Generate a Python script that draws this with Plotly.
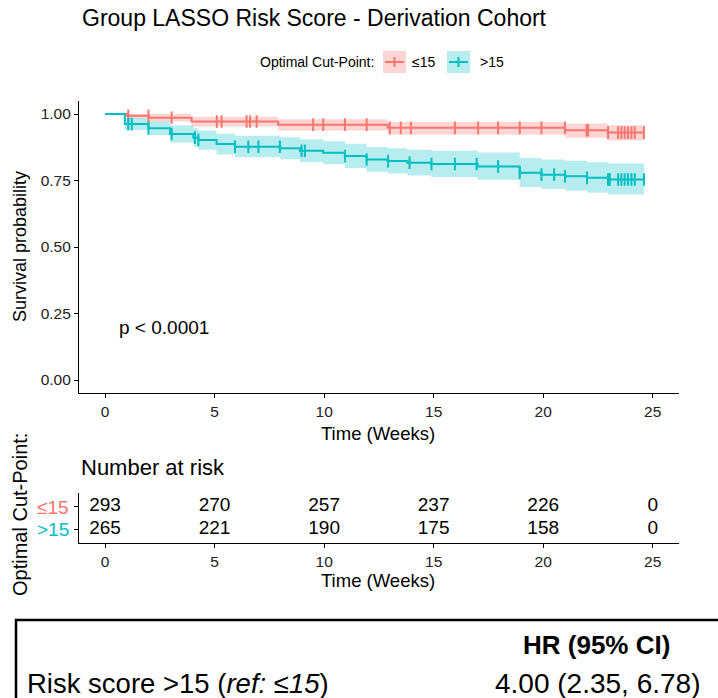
import plotly.graph_objects as go
import numpy as np

# ---------------- data ----------------
groups = ["≤15", ">15"]
colors = ["#F8766D", "#00BFC4"]
fills = ["rgba(248,118,109,0.30)", "rgba(0,191,196,0.28)"]

red_t = [0, 1.0, 2.0, 3.95, 7.9, 12.9, 21.0, 22.95, 24.6]
red_s = [1.0, 0.993, 0.986, 0.972, 0.960, 0.948, 0.939, 0.930, 0.930]
red_lo = [1.0, 0.983, 0.972, 0.953, 0.938, 0.923, 0.911, 0.900, 0.900]
red_hi = [1.0, 1.0, 1.0, 0.990, 0.980, 0.970, 0.964, 0.958, 0.958]
red_cens = [1.06, 1.98, 3.04, 5.1, 5.32, 6.46, 6.62, 6.92, 9.5, 9.96, 10.95, 11.94,
            13.0, 13.5, 13.96, 15.97, 17.03, 17.94, 18.93, 19.92, 20.99, 21.98, 22.05,
            22.96, 23.42, 23.57, 23.72, 23.87, 24.03, 24.18, 24.6]

teal_t = [0, 0.9, 1.98, 2.97, 4.03, 4.26, 5.09, 5.93, 8.0, 8.9, 9.96, 10.95, 11.94,
          12.9, 13.8, 14.9, 17.0, 18.93, 19.92, 21.0, 22.0, 22.96, 24.6]
teal_s = [1.0, 0.962, 0.946, 0.925, 0.911, 0.902, 0.887, 0.877, 0.871, 0.862, 0.854,
          0.842, 0.829, 0.823, 0.817, 0.812, 0.803, 0.779, 0.772, 0.766, 0.760, 0.754, 0.754]
teal_lo = [1.0, 0.940, 0.920, 0.893, 0.877, 0.866, 0.848, 0.837, 0.830, 0.820, 0.811,
           0.797, 0.783, 0.776, 0.769, 0.763, 0.753, 0.726, 0.718, 0.711, 0.704, 0.697, 0.697]
teal_hi = [1.0, 0.985, 0.973, 0.958, 0.946, 0.938, 0.926, 0.918, 0.913, 0.905, 0.898,
           0.888, 0.876, 0.871, 0.866, 0.862, 0.855, 0.835, 0.829, 0.824, 0.819, 0.814, 0.814]
teal_cens = [1.06, 1.22, 1.98, 3.04, 4.1, 4.26, 5.93, 6.54, 7.0, 7.98, 8.97, 9.12, 10.95,
             11.94, 12.92, 13.9, 14.9, 15.97, 16.96, 17.94, 18.93, 19.92, 20.5, 21.0, 22.0,
             22.96, 23.04, 23.42, 23.57, 23.72, 23.87, 24.03, 24.18, 24.6]

risk_times = [0, 5, 10, 15, 20, 25]
risk_red = [293, 270, 257, 237, 226, 0]
risk_teal = [265, 221, 190, 175, 158, 0]

y_ticks = [0, 0.25, 0.5, 0.75, 1.0]
y_ticklabels = ["0.00", "0.25", "0.50", "0.75", "1.00"]
x_ticks = [0, 5, 10, 15, 20, 25]

W, H = 718, 698
FONT = "Liberation Sans, Arial, Helvetica, sans-serif"


def X(px):
    return px / W


def Y(py):
    return 1 - py / H


def step_lookup(ts, ss, t):
    idx = np.searchsorted(np.array(ts), t, side="right") - 1
    return ss[max(idx, 0)]


fig = go.Figure()

curves = [
    (red_t, red_s, red_lo, red_hi, red_cens, colors[0], fills[0]),
    (teal_t, teal_s, teal_lo, teal_hi, teal_cens, colors[1], fills[1]),
]
for ts, ss, lo, hi, cens, col, fc in curves:
    fig.add_trace(go.Scatter(x=ts, y=lo, mode="lines", line=dict(width=0, shape="hv"),
                             hoverinfo="skip", showlegend=False, xaxis="x", yaxis="y"))
    fig.add_trace(go.Scatter(x=ts, y=hi, mode="lines", line=dict(width=0, shape="hv"),
                             fill="tonexty", fillcolor=fc, hoverinfo="skip",
                             showlegend=False, xaxis="x", yaxis="y"))
for ts, ss, lo, hi, cens, col, fc in curves:
    fig.add_trace(go.Scatter(x=ts, y=ss, mode="lines", line=dict(color=col, width=2, shape="hv"),
                             showlegend=False, xaxis="x", yaxis="y"))
    cy = [step_lookup(ts, ss, c) for c in cens]
    fig.add_trace(go.Scatter(x=cens, y=cy, mode="markers",
                             marker=dict(symbol="line-ns", size=9,
                                         line=dict(color=col, width=2)),
                             showlegend=False, xaxis="x", yaxis="y"))

# risk table
fig.add_trace(go.Scatter(x=risk_times, y=[2] * len(risk_times), mode="text",
                         text=[str(v) for v in risk_red],
                         textfont=dict(size=19, color="black", family=FONT),
                         showlegend=False, xaxis="x2", yaxis="y2"))
fig.add_trace(go.Scatter(x=risk_times, y=[1] * len(risk_times), mode="text",
                         text=[str(v) for v in risk_teal],
                         textfont=dict(size=19, color="black", family=FONT),
                         showlegend=False, xaxis="x2", yaxis="y2"))

axis_common = dict(showline=True, linecolor="black", linewidth=1.2, ticks="outside",
                   ticklen=4, tickwidth=1.2, tickcolor="black", showgrid=False,
                   zeroline=False, tickfont=dict(size=15.5, color="#222", family=FONT))

x_dom = [X(79), X(679)]
fig.update_layout(
    width=W, height=H,
    margin=dict(l=0, r=0, t=0, b=0),
    paper_bgcolor="white", plot_bgcolor="white",
    font=dict(family=FONT, color="black"),
    xaxis=dict(domain=x_dom, range=[-1.19, 26.2], tickvals=x_ticks, anchor="y", **axis_common),
    yaxis=dict(domain=[Y(393.3), Y(100.7)], range=[-0.05, 1.05], tickvals=y_ticks,
               ticktext=y_ticklabels, anchor="x", **axis_common),
    xaxis2=dict(domain=x_dom, range=[-1.19, 26.2], tickvals=x_ticks, anchor="y2", **axis_common),
    yaxis2=dict(domain=[Y(543), Y(493)], range=[0.4, 2.6], tickvals=[1, 2],
                showticklabels=False, anchor="x2",
                **{k: v for k, v in axis_common.items() if k != "tickfont"}),
    showlegend=False,
)

ann = []


def txt(x, y, s, size, xanchor="center", color="black", angle=0):
    ann.append(dict(x=X(x), y=Y(y), xref="paper", yref="paper", text=s, showarrow=False,
                    xanchor=xanchor, yanchor="middle", textangle=angle,
                    font=dict(size=size, color=color, family=FONT)))


txt(80, 18, "Group LASSO Risk Score - Derivation Cohort", 23, xanchor="left")
txt(376, 62, "Optimal Cut-Point:", 14, xanchor="right")
txt(410, 62, groups[0], 14, xanchor="left")
txt(478, 62, groups[1], 14, xanchor="left")
txt(20, 247, "Survival probability", 18, angle=-90)
txt(378, 433, "Time (Weeks)", 18.5)
txt(117, 328, "p &lt; 0.0001", 19, xanchor="left")
txt(20, 515, "Optimal Cut-Point:", 20, angle=-90)
txt(79, 467, "Number at risk", 22, xanchor="left")
txt(71, 507, groups[0], 19, xanchor="right", color=colors[0])
txt(71, 529, groups[1], 19, xanchor="right", color=colors[1])
txt(378, 580, "Time (Weeks)", 18.5)
txt(596, 645, "<b>HR (95% CI)</b>", 26)
txt(25, 683, "Risk score &gt;15 (<i>ref: ≤15</i>)", 27.5, xanchor="left")
txt(597, 683, "4.00 (2.35, 6.78)", 28)
fig.update_layout(annotations=ann)

shapes = []
# legend keys
for (x0, col, fc) in [(383, colors[0], fills[0]), (447, colors[1], fills[1])]:
    shapes.append(dict(type="rect", xref="paper", yref="paper", x0=X(x0), x1=X(x0 + 23),
                       y0=Y(73), y1=Y(51), fillcolor=fc, line=dict(width=0)))
    shapes.append(dict(type="line", xref="paper", yref="paper", x0=X(x0 + 2), x1=X(x0 + 21),
                       y0=Y(62), y1=Y(62), line=dict(color=col, width=2)))
    shapes.append(dict(type="line", xref="paper", yref="paper", x0=X(x0 + 11.5), x1=X(x0 + 11.5),
                       y0=Y(57), y1=Y(67), line=dict(color=col, width=2)))
# bottom box
shapes.append(dict(type="rect", xref="paper", yref="paper", x0=X(16), x1=X(740),
                   y0=Y(740), y1=Y(620), line=dict(color="black", width=2.5)))
fig.update_layout(shapes=shapes)

fig.write_html("out.html")
